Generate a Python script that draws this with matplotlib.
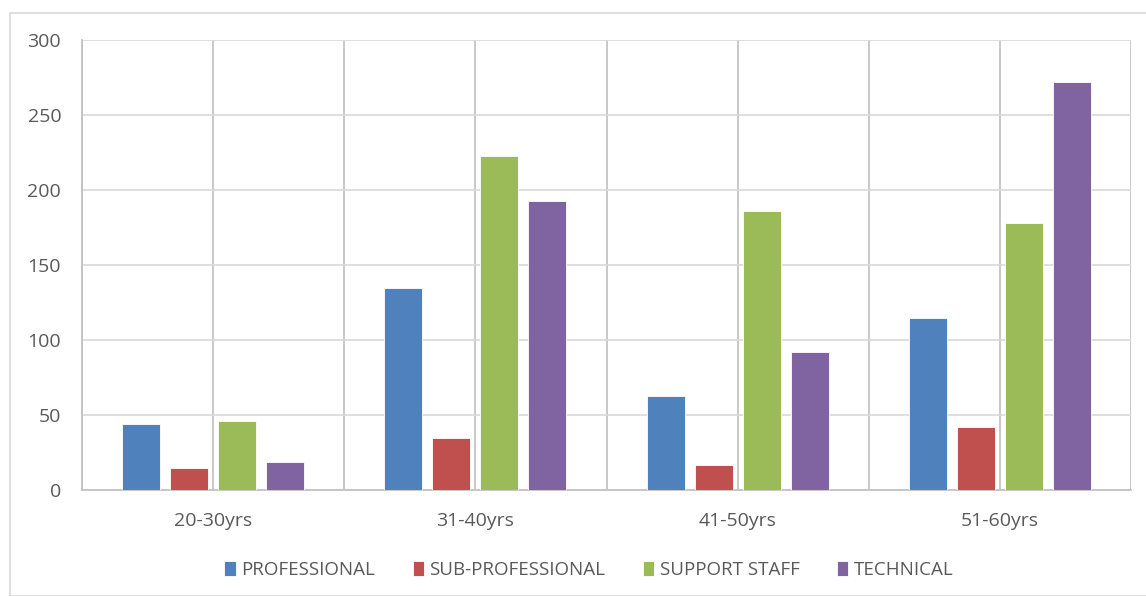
import numpy as np
import matplotlib.pyplot as plt
from matplotlib.patches import Rectangle

categories = ["20-30yrs", "31-40yrs", "41-50yrs", "51-60yrs"]
series_names = ["PROFESSIONAL", "SUB-PROFESSIONAL", "SUPPORT STAFF", "TECHNICAL"]
professional = [44, 135, 63, 115]
sub_professional = [15, 35, 17, 42]
support_staff = [46, 223, 186, 178]
technical = [19, 193, 92, 272]

colors = ["#4F81BD", "#C0504D", "#9BBB59", "#8064A2"]
values = [professional, sub_professional, support_staff, technical]

plt.rcParams['font.family'] = ['Open Sans', 'DejaVu Sans']

fig = plt.figure(figsize=(11.46, 5.96), dpi=100)
ax = fig.add_axes([82 / 1146, 1 - 490 / 596, (1131 - 82) / 1146, 450 / 596])

# outer chart frame
fig.patches.append(Rectangle((10 / 1146, 0), 1.2, 1 - 13 / 596, transform=fig.transFigure,
                             fill=False, edgecolor="#D9D9D9", lw=1.2))

x = np.arange(len(categories))
step = 0.183
width = 0.145
for i, (name, vals) in enumerate(zip(series_names, values)):
    ax.bar(x + (i - 1.5) * step, vals, width, color=colors[i], label=name,
           edgecolor="white", linewidth=0.6, zorder=3)

ax.set_xlim(-0.5, len(categories) - 0.5)
ax.set_ylim(0, 300)
ax.set_yticks(range(0, 301, 50))
ax.set_xticks(x)
ax.set_xticklabels(categories)

# vertical grid at every half category (boundaries and centres)
ax.xaxis.remove_overlapping_locs = False
ax.set_xticks(np.arange(-0.5, len(categories), 0.5), minor=True)
ax.grid(True, which="minor", axis="x", color="#BFBFBF", lw=1.2, zorder=0)
ax.grid(True, which="major", axis="y", color="#D9D9D9", lw=1.2, zorder=0)
ax.tick_params(axis="both", which="both", length=0, colors="#595959", labelsize=14)
ax.tick_params(axis="y", pad=15)
ax.tick_params(axis="x", pad=16)

for s in ["top", "right"]:
    ax.spines[s].set_visible(False)
ax.spines["left"].set_color("#BFBFBF")
ax.spines["left"].set_linewidth(1.2)
ax.spines["bottom"].set_color("#BFBFBF")
ax.spines["bottom"].set_linewidth(1.2)

leg = fig.legend(loc="center", bbox_to_anchor=(589 / 1146, 1 - 570 / 596), ncol=4,
                 frameon=False, fontsize=13.5, handlelength=0.6, handleheight=0.9,
                 handletextpad=0.3, columnspacing=2.0)
for t in leg.get_texts():
    t.set_color("#595959")

fig.savefig("out.png", dpi=100)
